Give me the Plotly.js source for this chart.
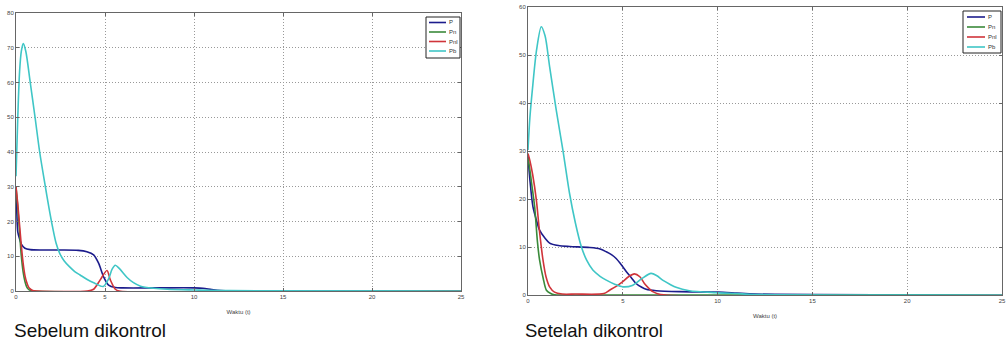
<!DOCTYPE html>
<html>
<head>
<meta charset="utf-8">
<script src="https://cdn.plot.ly/plotly-3.0.1.min.js"></script>
<style>
html,body{margin:0;padding:0;background:#fff;}
#chart{width:1006px;height:342px;}
</style>
</head>
<body>
<div id="chart"></div>
<script>
// ---- Labels ----
const seriesNames = ["P", "Pn", "Pnl", "Pb"];
const captions = ["Sebelum dikontrol", "Setelah dikontrol"];
const xTitle = "Waktu (t)";
const xTicks = [0, 5, 10, 15, 20, 25];
const yTicksBefore = [0, 10, 20, 30, 40, 50, 60, 70, 80];
const yTicksAfter = [0, 10, 20, 30, 40, 50, 60];

// ---- Data: "Sebelum dikontrol" (before control) ----
const tP_before = [0, 0.05, 0.1, 0.2, 0.3, 0.5, 0.8, 1.5, 2.5, 3.5, 3.98, 4.36, 4.64, 4.92, 5.2, 5.58, 6, 8, 10, 10.5, 11, 11.5, 25];
const P_before = [30, 22, 17, 15, 13.5, 12.3, 11.9, 11.8, 11.8, 11.7, 11.3, 10.4, 8, 4.1, 1.7, 1, 0.9, 0.9, 0.9, 0.8, 0.4, 0.1, 0];

const tPn_before = [0, 0.1, 0.2, 0.3, 0.4, 0.5, 0.6, 0.7, 0.8, 1, 25];
const Pn_before = [30, 24, 17, 10, 5.5, 2.8, 1.2, 0.5, 0.2, 0, 0];

const tPnl_before = [0, 0.1, 0.2, 0.3, 0.4, 0.5, 0.6, 0.7, 0.8, 0.9, 1.0, 4.0, 4.36, 4.73, 5.11, 5.3, 5.58, 5.8, 25];
const Pnl_before = [30, 25, 19, 13, 8, 4.5, 2.5, 1.2, 0.6, 0.2, 0.05, 0, 0.5, 3.2, 5.9, 3.2, 0.5, 0, 0];

const tPb_before = [0, 0.1, 0.2, 0.3, 0.41, 0.55, 0.8, 1.07, 1.33, 1.65, 1.85, 2.05, 2.25, 2.45, 2.7, 3.0, 3.3, 3.6, 4.0, 4.4, 4.9, 5.2, 5.4, 5.58, 5.8, 6.24, 6.6, 7.0, 7.74, 8.5, 10, 12, 25];
const Pb_before = [33, 50, 63, 69, 71.2, 69, 60, 50, 40, 30, 24, 18.5, 13.8, 10.9, 8.7, 7.0, 5.6, 4.6, 3.3, 2.3, 1.3, 3.5, 6.3, 7.4, 6.5, 3.9, 2.4, 1.4, 0.8, 0.5, 0.3, 0.1, 0];

// ---- Data: "Setelah dikontrol" (after control) ----
const tP_after = [0, 0.1, 0.26, 0.45, 0.61, 0.9, 1.14, 1.6, 2.2, 3.25, 3.8, 4.13, 4.4, 4.65, 4.9, 5.18, 5.45, 5.7, 6.0, 6.23, 6.76, 8, 10, 11, 12, 25];
const P_after = [29, 24, 18.4, 15.5, 13.5, 11.8, 10.8, 10.3, 10.1, 9.9, 9.6, 9.0, 8.4, 7.6, 6.4, 4.9, 3.6, 2.4, 1.6, 1.2, 0.9, 0.7, 0.6, 0.4, 0.2, 0];

const tPn_after = [0, 0.1, 0.2, 0.35, 0.5, 0.61, 0.8, 0.97, 1.2, 1.4, 2, 25];
const Pn_after = [28.5, 26, 23, 18.4, 11, 7.3, 3.5, 1, 0.3, 0.05, 0, 0];

const tPnl_after = [0, 0.1, 0.25, 0.44, 0.6, 0.79, 0.95, 1.14, 1.4, 1.8, 2.5, 4.0, 4.3, 4.65, 5.0, 5.3, 5.61, 5.9, 6.14, 6.4, 6.58, 7.0, 25];
const Pnl_after = [29.5, 28, 25, 19.8, 13.5, 7.3, 3.8, 1.7, 0.6, 0.2, 0.2, 0.3, 1, 1.8, 2.8, 3.8, 4.4, 3.8, 2.4, 1.3, 0.7, 0.1, 0];

const tPb_after = [0, 0.1, 0.26, 0.45, 0.7, 0.9, 1.14, 1.49, 1.84, 2.19, 2.5, 2.81, 3.1, 3.42, 3.8, 4.13, 4.6, 5.0, 5.5, 6.0, 6.49, 6.8, 7.1, 7.5, 7.81, 8.51, 9.9, 11, 12, 25];
const Pb_after = [30.2, 37, 44, 51, 55.9, 54, 47.6, 38.5, 30.2, 21.2, 15, 10.1, 7.2, 5.2, 3.9, 3.1, 2.2, 1.7, 2.0, 3.4, 4.5, 4.0, 3.1, 2.2, 1.6, 0.9, 0.5, 0.3, 0.1, 0];

const colors = ["#1c1c8c", "#3a8a3a", "#d0343a", "#3fc6c6"];
const FONT = "Liberation Sans, Arial, sans-serif";

function tr(x, y, i, axis) {
  return {
    type: "scatter", mode: "lines", x: x, y: y, name: seriesNames[i],
    xaxis: "x" + axis, yaxis: "y" + axis, showlegend: false,
    line: {color: colors[i], width: 1.6, shape: "spline", smoothing: 0.8},
    hoverinfo: "skip"
  };
}

const data = [
  tr(tP_before, P_before, 0, ""),
  tr(tPn_before, Pn_before, 1, ""),
  tr(tPnl_before, Pnl_before, 2, ""),
  tr(tPb_before, Pb_before, 3, ""),
  tr(tP_after, P_after, 0, "2"),
  tr(tPn_after, Pn_after, 1, "2"),
  tr(tPnl_after, Pnl_after, 2, "2"),
  tr(tPb_after, Pb_after, 3, "2")
];

const W = 1006, H = 342;
const px = v => v / W;
const py = v => 1 - v / H;

function xax(domain, anchor) {
  return {
    domain: domain, anchor: anchor, range: [0, 25], tickvals: xTicks, automargin: false,
    showline: true, mirror: "ticks", linecolor: "#666", linewidth: 1,
    ticks: "inside", ticklen: 3, tickcolor: "#666",
    showgrid: true, gridcolor: "#999", griddash: "1px,2px", gridwidth: 1,
    zeroline: false, tickfont: {family: FONT, size: 6, color: "#444"},
    title: {text: xTitle, font: {family: FONT, size: 6, color: "#444"}, standoff: 10}
  };
}
function yax(domain, anchor, range, ticks) {
  return {
    domain: domain, anchor: anchor, range: range, tickvals: ticks, automargin: false,
    showline: true, mirror: "ticks", linecolor: "#666", linewidth: 1,
    ticks: "inside", ticklen: 3, tickcolor: "#666",
    showgrid: true, gridcolor: "#999", griddash: "1px,2px", gridwidth: 1,
    zeroline: false, tickfont: {family: FONT, size: 6, color: "#444"}
  };
}

// manual compact legends (MATLAB-style), built from series names and colors
const shapes = [], annotations = [];
function legendBox(x0, y0, x1, y1, rows, lineX0, lineX1, textX) {
  shapes.push({type: "rect", xref: "paper", yref: "paper", x0: px(x0), x1: px(x1), y0: py(y0), y1: py(y1),
    line: {color: "#222", width: 1}, fillcolor: "#fff", layer: "above"});
  seriesNames.forEach((n, i) => {
    shapes.push({type: "line", xref: "paper", yref: "paper", x0: px(lineX0), x1: px(lineX1), y0: py(rows[i]), y1: py(rows[i]),
      line: {color: colors[i], width: 1.6}, layer: "above"});
    annotations.push({text: n, xref: "paper", yref: "paper", x: px(textX), y: py(rows[i]), xanchor: "left", yanchor: "middle",
      showarrow: false, font: {family: FONT, size: 6, color: "#333"}});
  });
}
legendBox(426, 17, 460, 58, [22.5, 32, 41.5, 51], 429, 446, 447);
legendBox(963, 11, 1001, 53, [17, 27, 37, 47], 967, 985, 986);

annotations.push(
  {text: captions[0], xref: "paper", yref: "paper", x: px(12), y: py(330), xanchor: "left", yanchor: "middle", showarrow: false,
   font: {family: FONT, size: 19, color: "#111"}},
  {text: captions[1], xref: "paper", yref: "paper", x: px(523), y: py(330), xanchor: "left", yanchor: "middle", showarrow: false,
   font: {family: FONT, size: 18.5, color: "#111"}}
);

const layout = {
  width: W, height: H,
  margin: {l: 0, r: 0, t: 0, b: 0, autoexpand: false},
  paper_bgcolor: "#fff", plot_bgcolor: "#fff",
  showlegend: false,
  xaxis: xax([px(16), px(461)], "y"),
  yaxis: yax([py(291), py(13)], "x", [0, 80], yTicksBefore),
  xaxis2: xax([px(528), px(1002)], "y2"),
  yaxis2: yax([py(295), py(7)], "x2", [0, 60], yTicksAfter),
  shapes: shapes,
  annotations: annotations
};

Plotly.newPlot("chart", data, layout, {staticPlot: true, displayModeBar: false});
</script>
</body>
</html>
